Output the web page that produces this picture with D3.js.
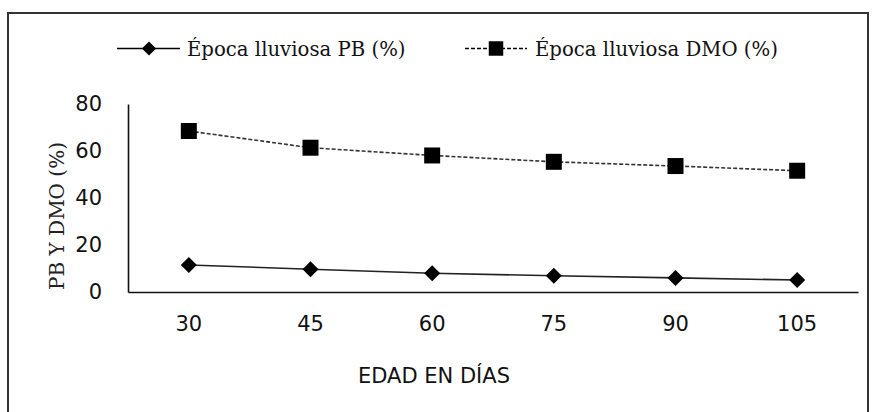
<!DOCTYPE html>
<html><head><meta charset="utf-8">
<script src="https://cdn.jsdelivr.net/npm/d3@7"></script>
<style>
html,body{margin:0;padding:0;background:#fff;}
svg{display:block;}
</style>
</head><body>
<svg id="chart" width="873" height="412"></svg>
<script>
const categories = ["30", "45", "60", "75", "90", "105"];
const pbValues = [11.5, 9.7, 8.0, 6.9, 6.0, 5.1];
const dmoValues = [68.5, 61.4, 58.1, 55.4, 53.6, 51.6];
const yTicks = [0, 20, 40, 60, 80];
const seriesNames = ["Época lluviosa PB (%)", "Época lluviosa DMO (%)"];
const xTitle = "EDAD EN DÍAS";
const yTitle = "PB Y DMO (%)";

const svg = d3.select("#chart");
const sansFont = "'DejaVu Sans', sans-serif";
const serifFont = "'DejaVu Serif', serif";

// outer frame
svg.append("rect").attr("x", 8).attr("y", 13).attr("width", 860).attr("height", 410)
  .attr("fill", "none").attr("stroke", "#333").attr("stroke-width", 2);

const x = d3.scaleBand().domain(categories).range([128, 858]).padding(0);
const y = d3.scaleLinear().domain([0, 80]).range([292, 104]);
const cx = d => x(d) + x.bandwidth() / 2;

// y axis
const gy = svg.append("g").attr("transform", "translate(128,0)")
  .call(d3.axisLeft(y).tickValues(yTicks).tickSize(0).tickPadding(26).tickFormat(d3.format("d")));
gy.select(".domain").attr("stroke", "#111").attr("stroke-width", 1.6);
gy.selectAll("text").attr("font-family", sansFont).attr("font-size", 21).attr("fill", "#111");

// x axis
const gx = svg.append("g").attr("transform", "translate(0,292)")
  .call(d3.axisBottom(x).tickSize(0).tickPadding(24));
gx.select(".domain").attr("stroke", "#111").attr("stroke-width", 1.6);
gx.selectAll("text").attr("font-family", sansFont).attr("font-size", 21).attr("fill", "#111");

// lines
const line = vals => d3.line().x((d, i) => cx(categories[i])).y(d => y(d))(vals);
svg.append("path").attr("d", line(dmoValues)).attr("fill", "none")
  .attr("stroke", "#333").attr("stroke-width", 1.6).attr("stroke-dasharray", "4,2");
svg.append("path").attr("d", line(pbValues)).attr("fill", "none")
  .attr("stroke", "#222").attr("stroke-width", 1.6);

// markers
const sq = d3.symbol().type(d3.symbolSquare).size(256);
const dm = d3.symbol().type(d3.symbolSquare).size(128);
svg.selectAll(".sq").data(dmoValues).join("path").attr("class", "sq")
  .attr("d", sq).attr("transform", (d, i) => `translate(${cx(categories[i])},${y(d)})`).attr("fill", "#000");
svg.selectAll(".dm").data(pbValues).join("path").attr("class", "dm")
  .attr("d", dm).attr("transform", (d, i) => `translate(${cx(categories[i])},${y(d)}) rotate(45)`).attr("fill", "#000");

// titles
svg.append("text").attr("x", 434).attr("y", 383).attr("text-anchor", "middle")
  .attr("font-family", sansFont).attr("font-size", 21).attr("fill", "#111").text(xTitle);
svg.append("text").attr("transform", "translate(64,216) rotate(-90)").attr("text-anchor", "middle")
  .attr("font-family", serifFont).attr("font-size", 20).attr("fill", "#222").text(yTitle);

// legend
const lg = svg.append("g");
lg.append("line").attr("x1", 117).attr("x2", 180).attr("y1", 48.5).attr("y2", 48.5)
  .attr("stroke", "#000").attr("stroke-width", 1.6);
lg.append("path").attr("d", d3.symbol().type(d3.symbolSquare).size(100))
  .attr("transform", "translate(149,48.5) rotate(45)").attr("fill", "#000");
lg.append("text").attr("x", 187).attr("y", 55.5).attr("font-family", serifFont).attr("font-size", 19.7)
  .attr("fill", "#111").text(seriesNames[0]);
lg.append("line").attr("x1", 465).attr("x2", 527).attr("y1", 48.5).attr("y2", 48.5)
  .attr("stroke", "#000").attr("stroke-width", 1.6).attr("stroke-dasharray", "4,2");
lg.append("path").attr("d", d3.symbol().type(d3.symbolSquare).size(210))
  .attr("transform", "translate(496,48.5)").attr("fill", "#000");
lg.append("text").attr("x", 535).attr("y", 55.5).attr("font-family", serifFont).attr("font-size", 19.7)
  .attr("fill", "#111").text(seriesNames[1]);
</script>
</body></html>
